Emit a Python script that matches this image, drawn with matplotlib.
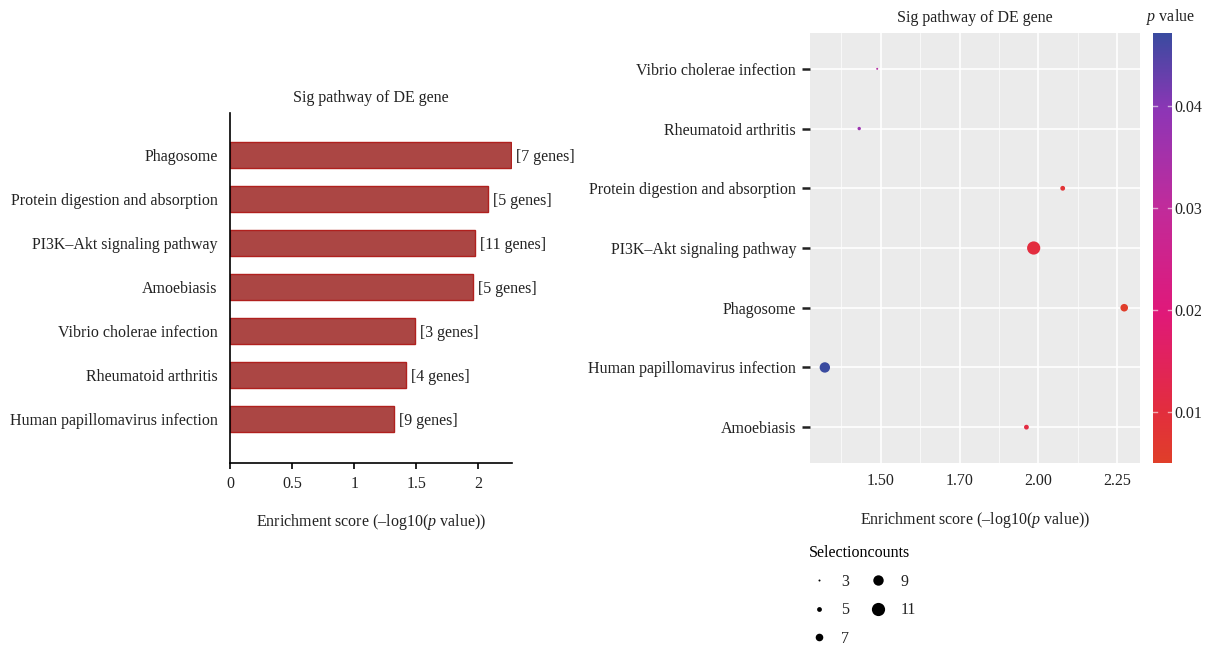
import matplotlib
matplotlib.use("Agg")
import matplotlib.pyplot as plt
import numpy as np
from matplotlib.colors import LinearSegmentedColormap, Normalize
from matplotlib.lines import Line2D

plt.rcParams['font.family'] = ['Liberation Serif', 'DejaVu Serif']
plt.rcParams['mathtext.fontset'] = 'custom'
plt.rcParams['mathtext.rm'] = 'Liberation Serif'
plt.rcParams['mathtext.it'] = 'Liberation Serif:italic'
FS = 11.5

# bar panel, sorted by enrichment score (top to bottom)
bar_pathways = ["Phagosome", "Protein digestion and absorption", "PI3K\u2013Akt signaling pathway",
                "Amoebiasis", "Vibrio cholerae infection", "Rheumatoid arthritis",
                "Human papillomavirus infection"]
bar_scores = [2.265, 2.077, 1.975, 1.957, 1.489, 1.418, 1.323]
bar_genes = [7, 5, 11, 5, 3, 4, 9]

# dot panel, rows from top to bottom
dot_pathways = ["Vibrio cholerae infection", "Rheumatoid arthritis", "Protein digestion and absorption",
                "PI3K\u2013Akt signaling pathway", "Phagosome", "Human papillomavirus infection",
                "Amoebiasis"]
dot_scores = [1.489, 1.432, 2.077, 1.985, 2.272, 1.323, 1.962]
dot_counts = [3, 4, 5, 11, 7, 9, 5]
dot_pvalues = [0.0324, 0.0370, 0.0084, 0.0104, 0.0054, 0.0475, 0.0109]

dot_xticks = [1.5, 1.75, 2.0, 2.25]
dot_xticklabels = ["1.50", "1.70", "2.00", "2.25"]
legend_counts = [3, 5, 7, 9, 11]
cbar_ticks = [0.01, 0.02, 0.03, 0.04]

W, H = 1209, 648
fig = plt.figure(figsize=(W / 100, H / 100), dpi=100)


def box(x0, y0, x1, y1):
    return [x0 / W, 1 - y1 / H, (x1 - x0) / W, (y1 - y0) / H]


# ---- left: bar chart ----
ax1 = fig.add_axes(box(230, 113, 512, 463))
ypos = np.arange(len(bar_pathways))[::-1]
ax1.barh(ypos, bar_scores, height=0.6, color="#AB4644", edgecolor="#B0201E", linewidth=1.0)
for y, v, g in zip(ypos, bar_scores, bar_genes):
    ax1.text(v + 0.04, y, f"[{g} genes]", va="center_baseline", ha="left", fontsize=FS, color="#222222")
ax1.set_yticks(ypos)
ax1.set_yticklabels(bar_pathways, fontsize=FS, color="#222222")
ax1.tick_params(axis="y", length=0, pad=9)
ax1.set_xlim(0, 2.27)
ax1.set_ylim(-1, 6.95)
ax1.set_xticks([0, 0.5, 1, 1.5, 2])
ax1.set_xticklabels(["0", "0.5", "1", "1.5", "2"], fontsize=FS, color="#222222")
ax1.tick_params(axis="x", length=4, width=1.2, pad=5)
for s in ["top", "right"]:
    ax1.spines[s].set_visible(False)
for s in ["left", "bottom"]:
    ax1.spines[s].set_linewidth(1.2)
ax1.set_title("Sig pathway of DE gene", fontsize=FS, pad=8, color="#222222")
ax1.set_xlabel("Enrichment score (\u2013log10($\\mathit{p}$ value))", fontsize=FS, labelpad=15, color="#222222")

# ---- right: dot plot ----
colors = [(0.0, "#E03F2A"), (0.12, "#E32E3E"), (0.35, "#E0197A"), (0.6, "#C02C9C"),
          (0.82, "#8E36B6"), (1.0, "#3A4BA0")]
cmap = LinearSegmentedColormap.from_list("pval", colors)
norm = Normalize(vmin=0.0050, vmax=0.0472)


def dot_diam(c):
    return 2 + (c - 3) * 1.4


ax2 = fig.add_axes(box(810, 33, 1140, 463))
ax2.set_facecolor("#EBEBEB")
yrows = np.arange(len(dot_pathways))[::-1]
sizes = [(dot_diam(c) / 1.389) ** 2 for c in dot_counts]
ax2.scatter(dot_scores, yrows, s=sizes, c=dot_pvalues, cmap=cmap, norm=norm, zorder=3, linewidths=0)
ax2.set_xlim(1.276, 2.322)
ax2.set_ylim(-0.6, 6.6)
ax2.set_xticks(dot_xticks)
ax2.set_xticklabels(dot_xticklabels, fontsize=FS, color="#222222")
ax2.set_xticks([1.375, 1.625, 1.875, 2.125], minor=True)
ax2.set_yticks(yrows)
ax2.set_yticklabels(dot_pathways, fontsize=FS, color="#222222")
ax2.grid(which="major", color="white", linewidth=1.2)
ax2.grid(which="minor", axis="x", color="white", linewidth=0.5)
ax2.set_axisbelow(True)
ax2.tick_params(axis="y", length=6, width=1.8, color="#222222", pad=4)
ax2.tick_params(axis="x", length=0, pad=7)
ax2.tick_params(which="minor", length=0)
for s in ax2.spines.values():
    s.set_visible(False)
ax2.set_title("Sig pathway of DE gene", fontsize=FS, pad=8, color="#222222")
ax2.set_xlabel("Enrichment score (\u2013log10($\\mathit{p}$ value))", fontsize=FS, labelpad=15, color="#222222")

# colour bar
cax = fig.add_axes(box(1153, 33, 1172, 463))
grad = np.linspace(norm.vmin, norm.vmax, 256).reshape(-1, 1)
cax.imshow(grad, aspect="auto", cmap=cmap, norm=norm, origin="lower",
           extent=[0, 1, norm.vmin, norm.vmax])
cax.set_xlim(0, 1)
cax.set_ylim(norm.vmin, norm.vmax)
cax.set_xticks([])
cax.yaxis.tick_right()
cax.set_yticks(cbar_ticks)
cax.set_yticklabels([f"{t:.2f}" for t in cbar_ticks], fontsize=FS, color="#222222")
cax.tick_params(axis="y", length=0, pad=2)
for t in cbar_ticks:
    cax.plot([0, 0.2], [t, t], color="white", lw=1, alpha=0.6)
    cax.plot([0.8, 1], [t, t], color="white", lw=1, alpha=0.6)
for s in cax.spines.values():
    s.set_visible(False)
cax.text(0.9, 1.015, "$\\mathit{p}$ value", transform=cax.transAxes, ha="center", va="bottom",
         fontsize=FS, color="#222222")

# size legend
handles = [Line2D([], [], linestyle="none", marker="o", color="black",
                  markersize=dot_diam(c) / 1.389, markeredgewidth=0) for c in legend_counts]
leg = fig.legend(handles, [str(c) for c in legend_counts], title="Selectioncounts",
                 loc="upper left", bbox_to_anchor=(795 / W, 1 - 531 / H), ncol=2,
                 frameon=False, fontsize=FS, title_fontsize=FS, alignment="left",
                 handlelength=1.2, handletextpad=0.8, columnspacing=1.2, labelspacing=0.78)
for t in leg.get_texts():
    t.set_color("#222222")

fig.savefig("out.png", dpi=100)
